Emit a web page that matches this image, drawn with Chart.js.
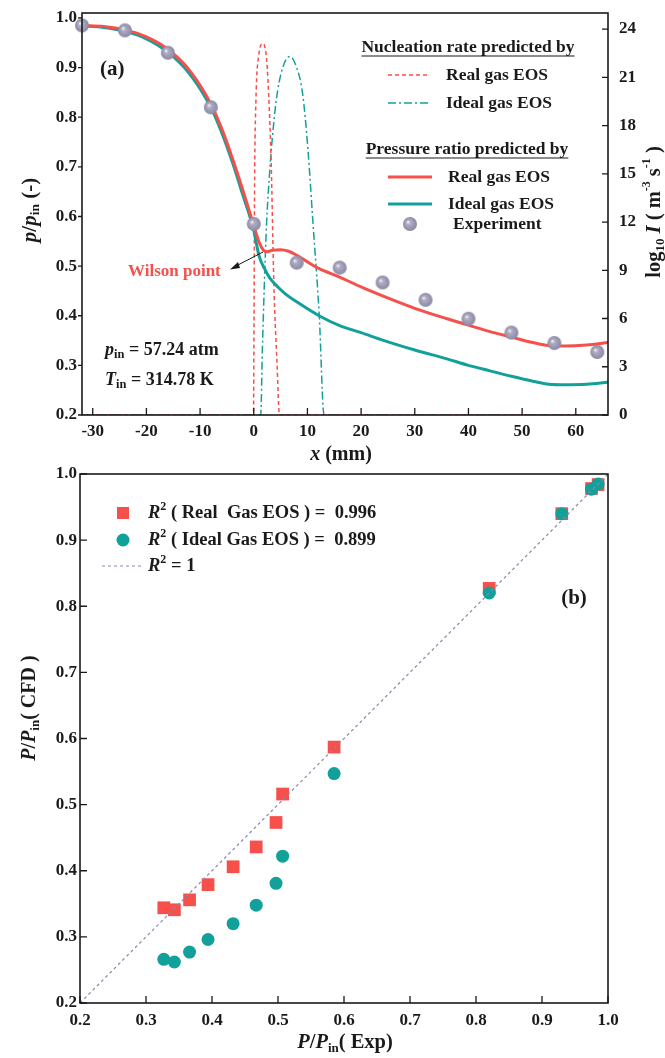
<!DOCTYPE html>
<html lang="en">
  <head>
    <meta charset="UTF-8" />
    <title>Pressure ratio and nucleation rate</title>
    <script src="https://cdn.jsdelivr.net/npm/chart.js"></script>
    <style>
      body { margin: 0; background: #fff; }
      canvas { position: absolute; left: 0; }
    </style>
  </head>
  <body>
    <canvas id="chartA" width="665" height="465" style="top:0"></canvas>
    <canvas id="chartB" width="665" height="593" style="top:465px"></canvas>

    <script>
      const SERIF = '"Liberation Serif", "Times New Roman", serif';
      const INK = "#1a1a1a";
      const RED = "#f5504b";
      const TEAL = "#12a09b";
      const REF = "#8a88a8";

      // (a) pressure ratio / nucleation rate along the nozzle
      const xExp = [-32, -24, -16, -8, 0, 8, 16, 24, 32, 40, 48, 56, 64];
      const pExp = [0.985, 0.975, 0.93, 0.82, 0.585, 0.507, 0.497, 0.467, 0.432, 0.394, 0.366, 0.345, 0.327];

      const xRealP = [-32, -28, -24, -20, -16, -12, -8, -6, -4, -2, 0, 1, 1.8, 2.5, 3.5, 5, 6.5, 8, 12, 16, 20, 24, 30, 36, 40, 44, 48, 52, 55, 58, 62, 66];
      const pReal = [0.985, 0.983, 0.976, 0.962, 0.937, 0.895, 0.827, 0.778, 0.718, 0.652, 0.582, 0.548, 0.532, 0.529, 0.532, 0.533, 0.53, 0.522, 0.496, 0.478, 0.458, 0.44, 0.415, 0.394, 0.381, 0.368, 0.357, 0.346, 0.34, 0.339, 0.341, 0.346];

      const xIdealP = [-32, -28, -24, -20, -16, -12, -8, -6, -4, -2, 0, 0.5, 1, 2, 3, 4.5, 6, 8, 12, 16, 20, 24, 30, 36, 40, 44, 48, 52, 55, 58, 62, 66];
      const pIdeal = [0.984, 0.981, 0.973, 0.958, 0.931, 0.888, 0.82, 0.77, 0.71, 0.642, 0.572, 0.545, 0.52, 0.495, 0.476, 0.458, 0.443, 0.428, 0.401, 0.38, 0.366, 0.351, 0.331, 0.313, 0.3, 0.289, 0.278, 0.268, 0.262, 0.261, 0.262, 0.266];

      const xRealI = [-32, -0.05, 0.05, 0.15, 0.4, 0.9, 1.7, 2.4, 2.9, 3.3, 3.55, 3.8, 4.3, 4.8, 66];
      const iReal = [0, 0, 6, 14, 19.5, 22.3, 23.1, 22.1, 19, 15, 11, 7.5, 3.5, 0, 0];

      const xIdealI = [-32, 1.3, 1.6, 2.0, 2.4, 2.9, 3.4, 4.2, 5.3, 6.7, 8.0, 9.1, 10.1, 11.0, 12.2, 13.1, 66];
      const iIdeal = [0, 0, 4, 8.4, 12, 14.8, 17, 19.6, 21.5, 22.3, 21.6, 20, 16.5, 12.1, 6.2, 0, 0];

      // (b) CFD against experiment
      const expB = [0.985, 0.975, 0.93, 0.82, 0.585, 0.507, 0.497, 0.467, 0.432, 0.394, 0.366, 0.343, 0.327];
      const cfdReal = [0.984, 0.978, 0.94, 0.827, 0.587, 0.516, 0.473, 0.436, 0.406, 0.379, 0.356, 0.341, 0.344];
      const cfdIdeal = [0.985, 0.977, 0.94, 0.82, 0.547, 0.422, 0.381, 0.348, 0.32, 0.296, 0.277, 0.262, 0.266];
      const refLine = [0.2, 1.0];

      const pts = (xs, ys) => xs.map((x, i) => ({ x: x, y: ys[i] }));
      const B = (s) => "bold " + s + "px " + SERIF;
      const BI = (s) => "italic bold " + s + "px " + SERIF;

      function makeBall(r) {
        const c = document.createElement("canvas");
        c.width = c.height = 2 * r + 2;
        const g = c.getContext("2d");
        const m = r + 1;
        const grad = g.createRadialGradient(m - r * 0.3, m - r * 0.3, 0.3, m, m, r);
        grad.addColorStop(0, "#f2f2f6");
        grad.addColorStop(0.28, "#afaec3");
        grad.addColorStop(1, "#8a88a4");
        g.fillStyle = grad;
        g.beginPath();
        g.arc(m, m, r, 0, Math.PI * 2);
        g.fill();
        return c;
      }
      const ball = makeBall(7);

      // draw a run of text pieces (sub/superscripts) and return its width
      function rich(ctx, x, y, runs, align) {
        let w = 0;
        runs.forEach((r) => {
          ctx.font = r.f;
          r.w = ctx.measureText(r.t).width;
          w += r.w;
        });
        let cx = align === "center" ? x - w / 2 : align === "right" ? x - w : x;
        ctx.textBaseline = "middle";
        ctx.textAlign = "left";
        runs.forEach((r) => {
          ctx.font = r.f;
          ctx.fillStyle = r.c || INK;
          ctx.fillText(r.t, cx, y + (r.dy || 0));
          cx += r.w;
        });
        return w;
      }

      function rotated(ctx, x, y, runs) {
        ctx.save();
        ctx.translate(x, y);
        ctx.rotate(-Math.PI / 2);
        rich(ctx, 0, 0, runs, "center");
        ctx.restore();
      }

      function drawBox(ctx, a) {
        ctx.save();
        ctx.strokeStyle = INK;
        ctx.lineWidth = 1.6;
        ctx.strokeRect(a.left, a.top, a.right - a.left, a.bottom - a.top);
        ctx.restore();
      }

      function drawTicks(ctx, scale, len, inward) {
        const a = scale.chart.chartArea;
        ctx.save();
        ctx.strokeStyle = INK;
        ctx.lineWidth = 1.3;
        ctx.beginPath();
        scale.ticks.forEach((t) => {
          const p = scale.getPixelForValue(t.value);
          if (scale.isHorizontal()) {
            ctx.moveTo(p, a.bottom);
            ctx.lineTo(p, a.bottom + (inward ? -len : len));
          } else if (scale.position === "left") {
            ctx.moveTo(a.left, p);
            ctx.lineTo(a.left + (inward ? len : -len), p);
          } else {
            ctx.moveTo(a.right, p);
            ctx.lineTo(a.right + (inward ? -len : len), p);
          }
        });
        ctx.stroke();
        ctx.restore();
      }

      function sampleLine(ctx, x0, x1, y, color, width, dash) {
        ctx.save();
        ctx.strokeStyle = color;
        ctx.lineWidth = width;
        ctx.setLineDash(dash || []);
        ctx.beginPath();
        ctx.moveTo(x0, y);
        ctx.lineTo(x1, y);
        ctx.stroke();
        ctx.restore();
      }

      // fixed axis box sizes, no extra label padding
      const fitTo = (w, h) => (s) => {
        if (w !== null) s.width = w;
        if (h !== null) s.height = h;
        s.paddingTop = s.paddingBottom = s.paddingLeft = s.paddingRight = 0;
      };

      const tickFont = { family: SERIF, size: 17, weight: "bold", lineHeight: 1 };
      const fix = (d) => (v) => Number(v).toFixed(d);

      const frameA = {
        id: "frameA",
        afterDraw(chart) {
          const ctx = chart.ctx;
          const a = chart.chartArea;
          drawBox(ctx, a);
          drawTicks(ctx, chart.scales.x, 7, true);
          drawTicks(ctx, chart.scales.y, 4, false);
          drawTicks(ctx, chart.scales.y1, 6, true);

          // legend
          const u1 = rich(ctx, 468, 47, [{ t: "Nucleation rate predicted by", f: B(17.5) }], "center");
          sampleLine(ctx, 468 - u1 / 2, 468 + u1 / 2, 56, INK, 1.2);
          sampleLine(ctx, 388, 428, 75, RED, 1.5, [4, 3]);
          rich(ctx, 446, 75, [{ t: "Real gas EOS", f: B(17.5) }]);
          sampleLine(ctx, 388, 428, 103, TEAL, 1.5, [8, 3, 2, 3]);
          rich(ctx, 446, 103, [{ t: "Ideal gas EOS", f: B(17.5) }]);
          const u2 = rich(ctx, 467, 149, [{ t: "Pressure ratio predicted by", f: B(17.5) }], "center");
          sampleLine(ctx, 467 - u2 / 2, 467 + u2 / 2, 158, INK, 1.2);
          sampleLine(ctx, 388, 432, 177, RED, 3);
          rich(ctx, 448, 177, [{ t: "Real gas EOS", f: B(17.5) }]);
          sampleLine(ctx, 388, 432, 204, TEAL, 3);
          rich(ctx, 448, 204, [{ t: "Ideal gas EOS", f: B(17.5) }]);
          ctx.drawImage(ball, 410 - ball.width / 2, 224 - ball.height / 2);
          rich(ctx, 453, 224, [{ t: "Experiment", f: B(17.5) }]);

          // annotations
          rich(ctx, 100, 70, [{ t: "(a)", f: B(21) }]);
          rich(ctx, 128, 272, [{ t: "Wilson point", f: B(17), c: RED }]);
          ctx.save();
          ctx.strokeStyle = INK;
          ctx.fillStyle = INK;
          ctx.lineWidth = 1;
          ctx.beginPath();
          ctx.moveTo(263, 252);
          ctx.lineTo(236, 266);
          ctx.stroke();
          ctx.beginPath();
          ctx.moveTo(230, 269.5);
          ctx.lineTo(238, 262);
          ctx.lineTo(240, 268);
          ctx.closePath();
          ctx.fill();
          ctx.restore();
          rich(ctx, 105, 350, [
            { t: "p", f: BI(18) },
            { t: "in", f: B(12.5), dy: 5 },
            { t: " = 57.24 atm", f: B(18) },
          ]);
          rich(ctx, 105, 380, [
            { t: "T", f: BI(18) },
            { t: "in", f: B(12.5), dy: 5 },
            { t: " = 314.78 K", f: B(18) },
          ]);

          // axis titles
          rich(ctx, 341, 455, [
            { t: "x", f: BI(20) },
            { t: " (mm)", f: B(20) },
          ], "center");
          rotated(ctx, 31, 210, [
            { t: "p", f: BI(21) },
            { t: "/", f: B(21) },
            { t: "p", f: BI(21) },
            { t: "in", f: B(13.5), dy: 5 },
            { t: " (-)", f: B(21) },
          ]);
          rotated(ctx, 655, 212, [
            { t: "log", f: B(20.5) },
            { t: "10", f: B(13), dy: 6 },
            { t: " I", f: BI(20.5) },
            { t: " ( m", f: B(20.5) },
            { t: "-3", f: B(12), dy: -8 },
            { t: " s", f: B(20.5) },
            { t: "-1", f: B(12), dy: -8 },
            { t: " )", f: B(20.5) },
          ]);
        },
      };

      new Chart(document.getElementById("chartA"), {
        type: "line",
        data: {
          datasets: [
            {
              label: "Experiment",
              type: "scatter",
              data: pts(xExp, pExp),
              yAxisID: "y",
              pointStyle: ball,
              pointRadius: 7,
              showLine: false,
              clip: false,
              order: 0,
            },
            {
              label: "Real gas EOS (p)",
              data: pts(xRealP, pReal),
              yAxisID: "y",
              borderColor: RED,
              borderWidth: 3,
              pointRadius: 0,
              cubicInterpolationMode: "monotone",
              order: 1,
            },
            {
              label: "Ideal gas EOS (p)",
              data: pts(xIdealP, pIdeal),
              yAxisID: "y",
              borderColor: TEAL,
              borderWidth: 3,
              pointRadius: 0,
              cubicInterpolationMode: "monotone",
              order: 2,
            },
            {
              label: "Real gas EOS (I)",
              data: pts(xRealI, iReal),
              yAxisID: "y1",
              borderColor: RED,
              borderWidth: 1.5,
              borderDash: [4, 3],
              pointRadius: 0,
              cubicInterpolationMode: "monotone",
              order: 3,
            },
            {
              label: "Ideal gas EOS (I)",
              data: pts(xIdealI, iIdeal),
              yAxisID: "y1",
              borderColor: TEAL,
              borderWidth: 1.5,
              borderDash: [8, 3, 2, 3],
              pointRadius: 0,
              cubicInterpolationMode: "monotone",
              order: 4,
            },
          ],
        },
        options: {
          responsive: false,
          animation: false,
          layout: { padding: { top: 13 } },
          plugins: { legend: { display: false }, tooltip: { enabled: false } },
          scales: {
            x: {
              type: "linear",
              min: -32,
              max: 66,
              ticks: { stepSize: 10, includeBounds: false, font: tickFont, color: INK, padding: 8 },
              grid: { display: false, drawTicks: false },
              border: { display: false },
              afterFit: fitTo(null, 50),
            },
            y: {
              position: "left",
              min: 0.2,
              max: 1.01,
              ticks: { stepSize: 0.1, includeBounds: false, font: tickFont, color: INK, padding: 5, callback: fix(1) },
              grid: { display: false, drawTicks: false },
              border: { display: false },
              afterFit: fitTo(82, null),
            },
            y1: {
              position: "right",
              min: 0,
              max: 25,
              ticks: { stepSize: 3, includeBounds: false, font: tickFont, color: INK, padding: 11 },
              grid: { display: false, drawTicks: false },
              border: { display: false },
              afterFit: fitTo(57, null),
            },
          },
        },
        plugins: [frameA],
      });

      const frameB = {
        id: "frameB",
        afterDraw(chart) {
          const ctx = chart.ctx;
          drawBox(ctx, chart.chartArea);
          drawTicks(ctx, chart.scales.x, 7, true);
          drawTicks(ctx, chart.scales.y, 7, true);

          // legend
          ctx.fillStyle = RED;
          ctx.fillRect(117, 42, 12, 12);
          rich(ctx, 148, 48, [
            { t: "R", f: BI(18.5) },
            { t: "2", f: B(12), dy: -6 },
            { t: " ( Real  Gas EOS ) =  0.996", f: B(18.5) },
          ]);
          ctx.fillStyle = TEAL;
          ctx.beginPath();
          ctx.arc(123, 75, 6.5, 0, Math.PI * 2);
          ctx.fill();
          rich(ctx, 148, 75, [
            { t: "R", f: BI(18.5) },
            { t: "2", f: B(12), dy: -6 },
            { t: " ( Ideal Gas EOS ) =  0.899", f: B(18.5) },
          ]);
          sampleLine(ctx, 102, 143, 101, REF, 1.2, [3, 3]);
          rich(ctx, 148, 101, [
            { t: "R", f: BI(18.5) },
            { t: "2", f: B(12), dy: -6 },
            { t: " = 1", f: B(18.5) },
          ]);
          rich(ctx, 574, 134, [{ t: "(b)", f: B(21) }], "center");

          // axis titles
          rich(ctx, 345, 578, [
            { t: "P", f: BI(20.5) },
            { t: "/", f: B(20.5) },
            { t: "P", f: BI(20.5) },
            { t: "in", f: B(13), dy: 6 },
            { t: "( Exp)", f: B(20.5) },
          ], "center");
          rotated(ctx, 30, 243, [
            { t: "P", f: BI(20) },
            { t: "/", f: B(20) },
            { t: "P", f: BI(20) },
            { t: "in", f: B(13), dy: 6 },
            { t: "( CFD )", f: B(20) },
          ]);
        },
      };

      new Chart(document.getElementById("chartB"), {
        type: "scatter",
        data: {
          datasets: [
            {
              label: "R2 = 1",
              type: "line",
              data: pts(refLine, refLine),
              borderColor: REF,
              borderWidth: 1.2,
              borderDash: [3, 3],
              pointRadius: 0,
              order: -1,
            },
            {
              label: "Ideal Gas EOS",
              data: pts(expB, cfdIdeal),
              pointStyle: "circle",
              pointRadius: 6.5,
              backgroundColor: TEAL,
              borderWidth: 0,
              clip: false,
              order: 0,
            },
            {
              label: "Real Gas EOS",
              data: pts(expB, cfdReal),
              pointStyle: "rect",
              pointRadius: 9,
              backgroundColor: RED,
              borderWidth: 0,
              clip: false,
              order: 1,
            },
          ],
        },
        options: {
          responsive: false,
          animation: false,
          layout: { padding: { top: 9, right: 57 } },
          plugins: { legend: { display: false }, tooltip: { enabled: false } },
          scales: {
            x: {
              type: "linear",
              min: 0.2,
              max: 1.0,
              ticks: { stepSize: 0.1, includeBounds: false, font: tickFont, color: INK, padding: 9, callback: fix(1) },
              grid: { display: false, drawTicks: false },
              border: { display: false },
              afterFit: fitTo(null, 55),
            },
            y: {
              min: 0.2,
              max: 1.0,
              ticks: { stepSize: 0.1, includeBounds: false, font: tickFont, color: INK, padding: 3, callback: fix(1) },
              grid: { display: false, drawTicks: false },
              border: { display: false },
              afterFit: fitTo(80, null),
            },
          },
        },
        plugins: [frameB],
      });
    </script>
  </body>
</html>
